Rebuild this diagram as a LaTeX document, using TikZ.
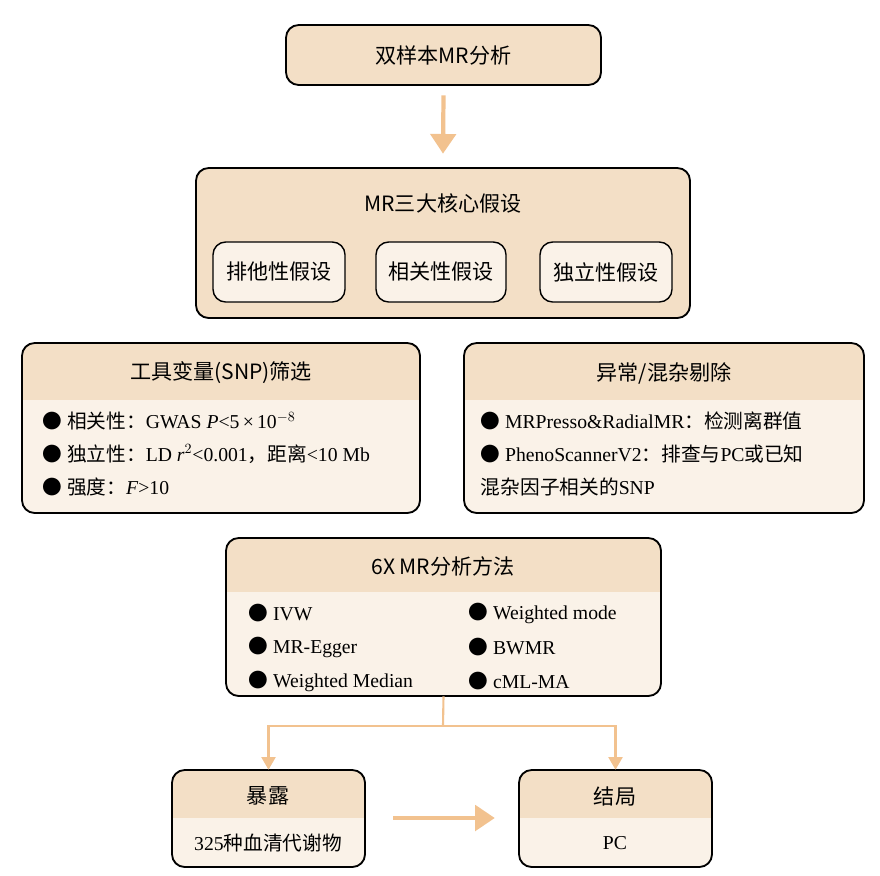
\documentclass[tikz,border=0pt]{standalone}
\usepackage{fontspec}
\setmainfont{Liberation Serif}
\newfontfamily\cjk{Noto Sans CJK SC}
\newfontfamily\cjkb{Noto Sans CJK SC}[BoldFont={Noto Sans CJK SC Medium}]
\usetikzlibrary{positioning}
\usetikzlibrary{fit}
\usetikzlibrary{arrows.meta}

\definecolor{HeadFill}{HTML}{F3DFC6}
\definecolor{BodyFill}{HTML}{FAF2E8}
\definecolor{ArrowLine}{HTML}{F2C28F}

% card: name, x1, y1, x2, y2, header bottom
\newcommand\card[6]{%
	\node (#1) [card, fit={(#2,#3) (#4,#5)}] {};
	\begin{scope}
		\clip[rounded corners=9pt] (#2,#3) rectangle (#4,#5);
		\fill[HeadFill] (#2,#3) rectangle (#4,#6);
	\end{scope}
	\draw[rounded corners=9pt, line width=1.3pt] (#2,#3) rectangle (#4,#5);}

\begin{document}
\begin{tikzpicture}
	[x=0.025cm, y=-0.025cm,
	card/.style={fill=BodyFill, rounded corners=9pt, inner sep=0pt},
	title/.style={font=\fontsize{15}{18}\selectfont\cjk},
	item/.style={anchor=west, font=\fontsize{14}{17}\selectfont},
	flow/.style={draw=ArrowLine, line width=3pt, -{Triangle[length=14pt, width=18pt]}},
	thin flow/.style={draw=ArrowLine, line width=1.5pt, -{Triangle[length=9pt, width=10pt]}}]

\useasboundingbox (0,0) rectangle (880,875);

% Top
\card{TwoSample}{286}{25}{601}{85}{85}
\node [title] at (TwoSample.center) {双样本MR分析};

% Assumptions
\card{Assume}{196}{168}{690}{318}{318}
\node [title] at (443,203) {MR三大核心假设};
\foreach \nm/\xa/\xb/\txt in {Excl/213/345/排他性假设, Relev/376/506/相关性假设, Indep/540/672/独立性假设}
{
	\node (\nm) [card, draw, line width=1pt, fit={(\xa,242) (\xb,302)}] {};
	\node [title] at (\nm.center) {\txt};
}

% Instrument selection
\card{SNP}{22}{343}{420}{513}{400}
\node [title] at (221,373) {工具变量(SNP)筛选};
\node [item] at (38,421) {{\cjk ● 相关性：}GWAS \textit{P}<5\,×\,10$^{-8}$};
\node [item] at (38,454) {{\cjk ● 独立性：}LD \textit{r}$^2$<0.001{\cjk ，距离}<10 Mb};
\node [item] at (38,487) {{\cjk ● 强度：}\textit{F}>10};

% Outlier removal
\card{Outlier}{464}{343}{864}{513}{400}
\node [title] at (664,373) {异常/混杂剔除};
\node [item] at (476,421) {{\cjk ● }MRPresso\&RadialMR{\cjk ：检测离群值}};
\node [item] at (476,454) {{\cjk ● }PhenoScannerV2{\cjk ：排查与}PC{\cjk 或已知}};
\node [item] at (476,487) {{\cjk 混杂因子相关的}SNP};

% Methods
\card{Methods}{226}{538}{661}{696}{592}
\node [title] at (443,566) {6X MR分析方法};
\foreach \y/\lt/\rt in {613/IVW/Weighted mode, 647/MR-Egger/BWMR, 681/Weighted Median/cML-MA}
{
	\node [item] at (244,\y) {{\cjk ● }\lt};
	\node [item] at (464,\y) {{\cjk ● }\rt};
}

% Exposure and outcome
\card{Exposure}{172}{770}{365}{867}{818}
\node [title] at (268,796) {暴露};
\node [item, anchor=center] at (268,843) {325{\cjk 种血清代谢物}};
\card{Outcome}{519}{770}{712}{867}{818}
\node [title] at (615,796) {结局};
\node [item, anchor=center] at (615,843) {PC};

% Edges
\coordinate (Split) at (443,726);
\draw[flow] (TwoSample.south) ++(0,10) -- ([yshift=10] Assume.north);
\draw[draw=ArrowLine, line width=1.5pt] (Methods.south) -- (Split);
\draw[thin flow] (Split) -| (Exposure.north);
\draw[thin flow] (Split) -| (Outcome.north);
\draw[flow] ([xshift=20] Exposure.east |- 0,818) -- ([xshift=-17] Outcome.west |- 0,818);

\end{tikzpicture}
\end{document}
